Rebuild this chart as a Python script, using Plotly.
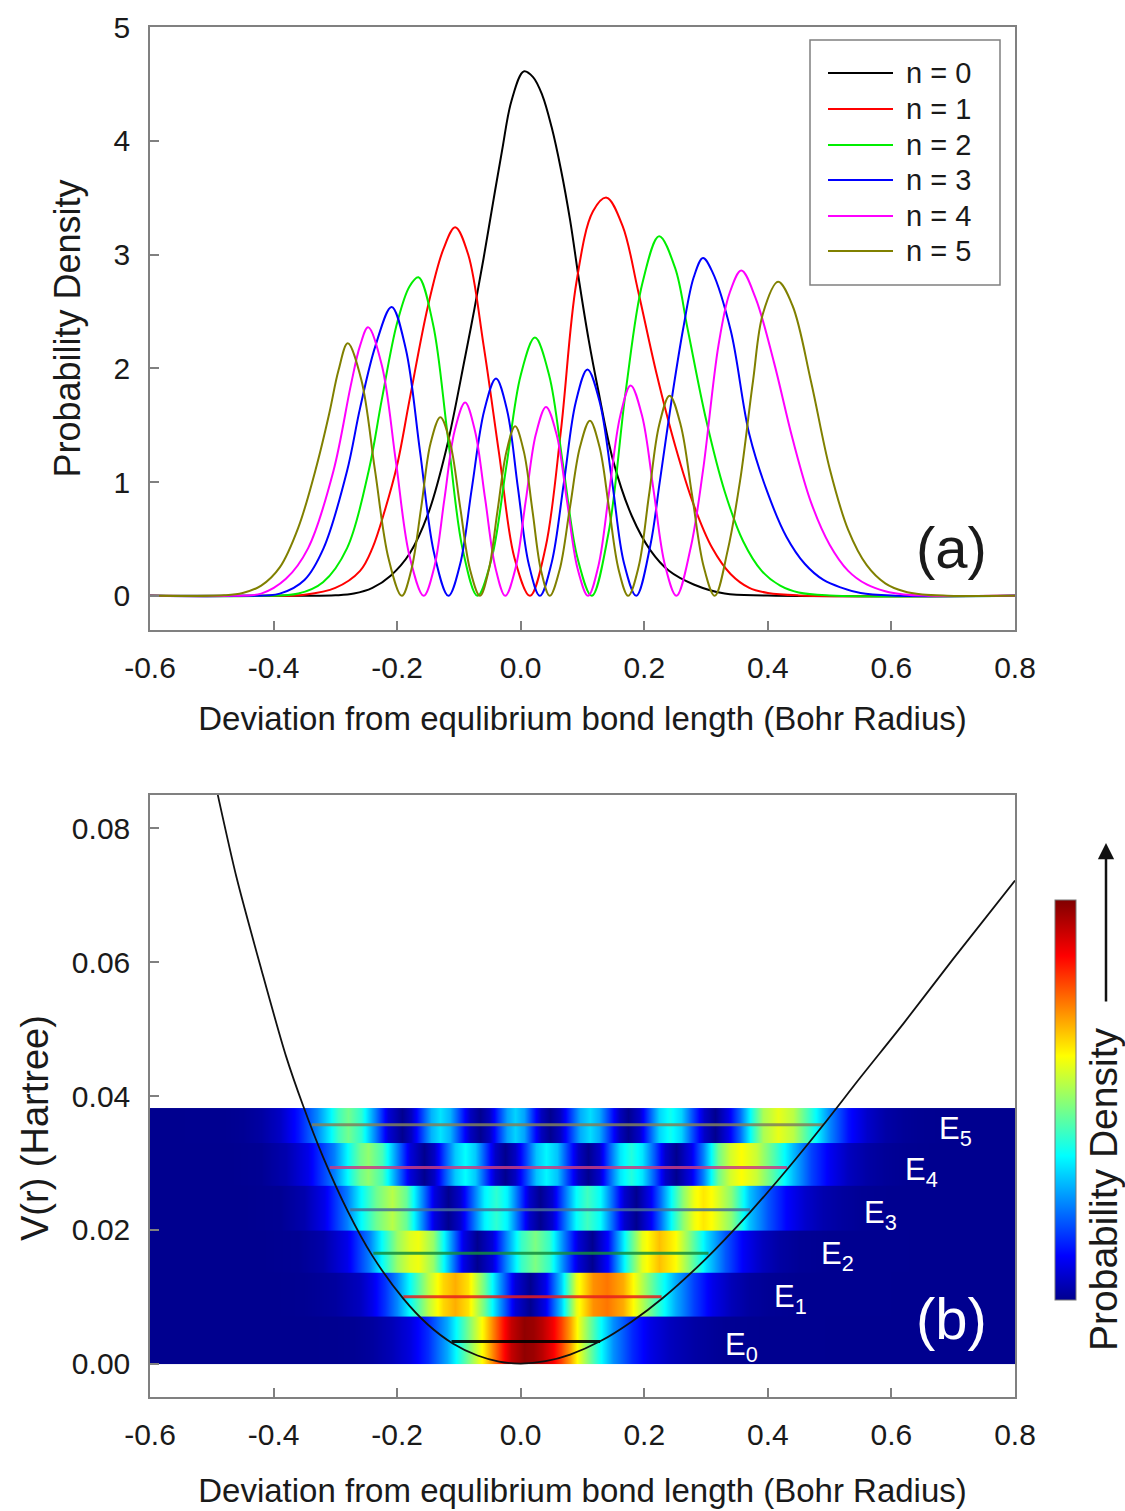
import plotly.graph_objects as go

# ---------------- data ----------------
x_tick_vals = [-0.6, -0.4, -0.2, 0.0, 0.2, 0.4, 0.6, 0.8]
x_tick_text = ['-0.6', '-0.4', '-0.2', '0.0', '0.2', '0.4', '0.6', '0.8']
ya_tick_vals = [0, 1, 2, 3, 4, 5]
yb_tick_vals = [0.00, 0.02, 0.04, 0.06, 0.08]
yb_tick_text = ['0.00', '0.02', '0.04', '0.06', '0.08']

level_names = ['n = 0', 'n = 1', 'n = 2', 'n = 3', 'n = 4', 'n = 5']
energy_labels = ['E<sub>0</sub>', 'E<sub>1</sub>', 'E<sub>2</sub>', 'E<sub>3</sub>', 'E<sub>4</sub>', 'E<sub>5</sub>']

# probability densities
x0 = [-0.60, -0.35, -0.30, -0.27, -0.24, -0.21, -0.18, -0.15, -0.12, -0.09, -0.075, -0.06, -0.045, -0.03, -0.015, 0.005, 0.02, 0.035, 0.05, 0.065, 0.08, 0.095, 0.11, 0.125, 0.15, 0.18, 0.21, 0.24, 0.28, 0.33, 0.40, 0.80]
d0 = [0.0, 0.0, 0.005, 0.02, 0.07, 0.18, 0.37, 0.72, 1.30, 2.10, 2.52, 2.97, 3.45, 3.92, 4.35, 4.61, 4.56, 4.40, 4.12, 3.75, 3.30, 2.75, 2.25, 1.82, 1.18, 0.70, 0.40, 0.22, 0.10, 0.02, 0.003, 0.0]

x1 = [-0.60, -0.40, -0.35, -0.30, -0.26, -0.24, -0.22, -0.20, -0.18, -0.15, -0.125, -0.106, -0.085, -0.06, -0.035, -0.01, 0.015, 0.04, 0.065, 0.09, 0.117, 0.139, 0.165, 0.19, 0.22, 0.25, 0.28, 0.31, 0.34, 0.37, 0.40, 0.45, 0.80]
d1 = [0.0, 0.0, 0.01, 0.07, 0.22, 0.42, 0.75, 1.15, 1.72, 2.55, 3.05, 3.24, 3.00, 2.20, 1.25, 0.33, 0.0, 0.42, 1.45, 2.75, 3.38, 3.50, 3.25, 2.68, 1.95, 1.32, 0.80, 0.42, 0.19, 0.07, 0.025, 0.004, 0.0]

x2 = [-0.60, -0.42, -0.36, -0.32, -0.281, -0.246, -0.225, -0.20, -0.18, -0.1655, -0.142, -0.118, -0.094, -0.07, -0.047, -0.0235, 0.0, 0.023, 0.046, 0.069, 0.092, 0.115, 0.142, 0.17, 0.197, 0.224, 0.25, 0.27, 0.30, 0.33, 0.36, 0.39, 0.42, 0.45, 0.50, 0.80]
d2 = [0.0, 0.0, 0.02, 0.12, 0.42, 1.10, 1.72, 2.40, 2.72, 2.80, 2.39, 1.40, 0.41, 0.0, 0.33, 1.13, 1.94, 2.27, 1.94, 1.13, 0.33, 0.0, 0.55, 1.80, 2.75, 3.16, 2.88, 2.35, 1.55, 0.92, 0.48, 0.22, 0.09, 0.03, 0.004, 0.0]

x3 = [-0.60, -0.45, -0.39, -0.35, -0.319, -0.281, -0.26, -0.235, -0.209, -0.186, -0.163, -0.140, -0.117, -0.098, -0.079, -0.059, -0.040, -0.022, -0.0045, 0.013, 0.031, 0.050, 0.070, 0.089, 0.108, 0.128, 0.148, 0.167, 0.187, 0.21, 0.225, 0.245, 0.263, 0.28, 0.295, 0.31, 0.34, 0.37, 0.40, 0.43, 0.46, 0.49, 0.52, 0.55, 0.60, 0.80]
d3 = [0.0, 0.0, 0.02, 0.14, 0.42, 1.10, 1.65, 2.20, 2.54, 2.17, 1.27, 0.37, 0.0, 0.28, 0.95, 1.63, 1.91, 1.63, 0.95, 0.28, 0.0, 0.29, 1.00, 1.70, 1.99, 1.70, 1.00, 0.29, 0.0, 0.45, 1.00, 1.75, 2.35, 2.80, 2.97, 2.85, 2.33, 1.42, 0.90, 0.52, 0.28, 0.14, 0.07, 0.025, 0.003, 0.0]

x4 = [-0.60, -0.47, -0.42, -0.38, -0.344, -0.303, -0.275, -0.26, -0.247, -0.2245, -0.202, -0.18, -0.157, -0.14, -0.1235, -0.107, -0.090, -0.074, -0.0575, -0.041, -0.025, -0.0085, 0.008, 0.0245, 0.041, 0.058, 0.075, 0.092, 0.109, 0.126, 0.1435, 0.161, 0.178, 0.1965, 0.215, 0.2335, 0.252, 0.275, 0.295, 0.32, 0.338, 0.357, 0.38, 0.41, 0.44, 0.47, 0.50, 0.53, 0.56, 0.59, 0.62, 0.66, 0.80]
d4 = [0.0, 0.0, 0.02, 0.15, 0.42, 1.10, 1.85, 2.20, 2.36, 2.02, 1.18, 0.35, 0.0, 0.25, 0.85, 1.45, 1.70, 1.45, 0.85, 0.25, 0.0, 0.24, 0.83, 1.42, 1.66, 1.42, 0.83, 0.24, 0.0, 0.27, 0.93, 1.58, 1.85, 1.58, 0.93, 0.27, 0.0, 0.42, 1.10, 2.20, 2.66, 2.86, 2.62, 2.05, 1.38, 0.82, 0.45, 0.22, 0.10, 0.04, 0.012, 0.002, 0.0]

x5 = [-0.60, -0.48, -0.45, -0.42, -0.39, -0.36, -0.33, -0.31, -0.295, -0.280, -0.258, -0.236, -0.214, -0.1925, -0.177, -0.161, -0.146, -0.130, -0.114, -0.098, -0.082, -0.066, -0.052, -0.0375, -0.023, -0.009, 0.005, 0.019, 0.033, 0.047, 0.063, 0.0795, 0.096, 0.112, 0.1275, 0.143, 0.1585, 0.174, 0.191, 0.2075, 0.224, 0.241, 0.259, 0.2775, 0.296, 0.314, 0.335, 0.355, 0.376, 0.392, 0.4165, 0.44, 0.47, 0.50, 0.53, 0.56, 0.59, 0.62, 0.65, 0.69, 0.80]
d5 = [0.0, 0.005, 0.025, 0.09, 0.25, 0.60, 1.15, 1.60, 1.98, 2.22, 1.90, 1.11, 0.33, 0.0, 0.23, 0.78, 1.34, 1.57, 1.34, 0.78, 0.23, 0.0, 0.22, 0.75, 1.27, 1.49, 1.27, 0.75, 0.22, 0.0, 0.23, 0.77, 1.31, 1.54, 1.31, 0.77, 0.23, 0.0, 0.26, 0.88, 1.50, 1.76, 1.50, 0.88, 0.26, 0.0, 0.40, 1.01, 1.89, 2.48, 2.76, 2.55, 1.88, 1.12, 0.58, 0.27, 0.11, 0.04, 0.012, 0.002, 0.0]

# potential curve (panel b)
pot_x = [-0.50, -0.49, -0.46, -0.42, -0.38, -0.352, -0.32, -0.28, -0.24, -0.19, -0.15, -0.11, -0.07, -0.035, 0.0, 0.04, 0.08, 0.13, 0.18, 0.23, 0.30, 0.37, 0.43, 0.49, 0.55, 0.62, 0.70, 0.80]
pot_v = [0.0892, 0.0849, 0.0727, 0.0590, 0.0460, 0.0385, 0.0309, 0.0228, 0.0161, 0.0097, 0.0058, 0.0030, 0.0012, 0.0003, 0.0, 0.00035, 0.00135, 0.0034, 0.0063, 0.0098, 0.0157, 0.0225, 0.0289, 0.0357, 0.0428, 0.0509, 0.0605, 0.0722]

# energy levels and classical turning points
energies = [0.0033, 0.0100, 0.0165, 0.0230, 0.0293, 0.0357]
turn_left = [-0.112, -0.190, -0.2385, -0.276, -0.309, -0.338]
turn_right = [0.1285, 0.228, 0.304, 0.371, 0.431, 0.490]

# density bands in panel b (bottom / top of each band, Hartree)
band_bottom = [0.0, 0.0070, 0.0135, 0.0199, 0.0265, 0.0329]
band_top = [0.0070, 0.0135, 0.0199, 0.0265, 0.0329, 0.0382]

xs = [x0, x1, x2, x3, x4, x5]
ds = [d0, d1, d2, d3, d4, d5]

# ---------------- style ----------------
W, H = 1125, 1511
ML, MR, MT, MB = 150, 110, 27, 114
FONT = 'Liberation Sans, Arial, Helvetica, sans-serif'
TXT = '#1a1a1a'
colors = ['#000000', '#ff0000', '#00ee00', '#0000ff', '#ff00ff', '#808000']
level_line_colors = ['rgba(0,0,0,0.9)', 'rgba(230,30,30,0.85)', 'rgba(20,140,60,0.85)',
                     'rgba(70,110,150,0.85)', 'rgba(200,60,130,0.85)', 'rgba(128,128,90,0.85)']
jet = [[0.0, 'rgb(0,0,143)'], [0.11, 'rgb(0,0,255)'], [0.36, 'rgb(0,255,255)'],
       [0.61, 'rgb(255,255,0)'], [0.86, 'rgb(255,0,0)'], [1.0, 'rgb(128,0,0)']]
BAND_OVERLAP = 0.0004  # drawing overlap so adjacent bands leave no hairline gap


def px_x(px):
    return (px - ML) / (W - ML - MR)


def px_y(py):
    return (H - MB - py) / (H - MT - MB)


fig = go.Figure()

# panel a curves
for n in range(6):
    fig.add_trace(go.Scatter(x=xs[n], y=ds[n], mode='lines', name=level_names[n],
                             line=dict(color=colors[n], width=2, shape='spline', smoothing=1.0),
                             xaxis='x', yaxis='y', showlegend=False, hoverinfo='skip'))

# panel b density bands
for n in range(6):
    top = band_top[n] + (BAND_OVERLAP if n < 5 else 0.0)
    mid = (band_bottom[n] + top) / 2
    fig.add_trace(go.Heatmap(x=xs[n], y=[band_bottom[n], mid, top], z=[ds[n], ds[n]],
                             coloraxis='coloraxis', zsmooth='best', xaxis='x2', yaxis='y2',
                             hoverinfo='skip'))

# energy levels
for n in range(6):
    fig.add_trace(go.Scatter(x=[turn_left[n], turn_right[n]], y=[energies[n], energies[n]],
                             mode='lines', line=dict(color=level_line_colors[n], width=3),
                             xaxis='x2', yaxis='y2', showlegend=False, hoverinfo='skip'))

# potential
fig.add_trace(go.Scatter(x=pot_x, y=pot_v, mode='lines',
                         line=dict(color='#111111', width=1.8, shape='spline', smoothing=0.8),
                         xaxis='x2', yaxis='y2', showlegend=False, hoverinfo='skip'))

axis_common = dict(showline=True, linecolor='#808080', linewidth=1.5, mirror=True,
                   ticks='inside', ticklen=9, tickwidth=1.5, tickcolor='#808080',
                   showgrid=False, zeroline=False, automargin=False,
                   tickfont=dict(family=FONT, size=30, color=TXT))
xtitle_font = dict(family=FONT, size=33, color=TXT)

dom_a = [px_y(630), 1.0]
dom_b = [0.0, px_y(795)]
xtitle = 'Deviation from equlibrium bond length (Bohr Radius)'

fig.update_layout(
    width=W, height=H, margin=dict(l=ML, r=MR, t=MT, b=MB, autoexpand=False),
    plot_bgcolor='white', paper_bgcolor='white', showlegend=False,
    xaxis=dict(axis_common, domain=[0, 1], anchor='y', range=[-0.6, 0.8],
               tickvals=x_tick_vals, ticktext=x_tick_text, ticklabelstandoff=10,
               title=dict(text=xtitle, font=xtitle_font, standoff=24)),
    yaxis=dict(axis_common, domain=dom_a, anchor='x', range=[-0.3, 5],
               tickvals=ya_tick_vals, ticklabelstandoff=12,
               title=dict(text='Probability Density', font=dict(family=FONT, size=36, color=TXT),
                          standoff=22)),
    xaxis2=dict(axis_common, domain=[0, 1], anchor='y2', range=[-0.6, 0.8],
                tickvals=x_tick_vals, ticktext=x_tick_text, ticklabelstandoff=10,
                title=dict(text=xtitle, font=xtitle_font, standoff=29)),
    yaxis2=dict(axis_common, domain=dom_b, anchor='x2', range=[-0.005, 0.085],
                tickvals=yb_tick_vals, ticktext=yb_tick_text, ticklabelstandoff=12),
    coloraxis=dict(colorscale=jet, cmin=0, cmax=4.7,
                   colorbar=dict(x=px_x(1055), xanchor='left', y=px_y(1100), yanchor='middle',
                                 len=400, lenmode='pixels', thickness=21, thicknessmode='pixels',
                                 xpad=0, ypad=0, showticklabels=False, ticks='',
                                 outlinewidth=1, outlinecolor='#777777')),
)

shapes = []
annotations = []

# custom legend box for panel a
shapes.append(dict(type='rect', xref='paper', yref='paper',
                   x0=px_x(810), x1=px_x(1000), y0=px_y(285), y1=px_y(40),
                   line=dict(color='#808080', width=1.5), fillcolor='white', layer='above'))
legend_rows = [73, 109, 145, 180, 216, 251]
for n in range(6):
    shapes.append(dict(type='line', xref='paper', yref='paper',
                       x0=px_x(828), x1=px_x(893), y0=px_y(legend_rows[n]), y1=px_y(legend_rows[n]),
                       line=dict(color=colors[n], width=2), layer='above'))
    annotations.append(dict(xref='paper', yref='paper', x=px_x(904), y=px_y(legend_rows[n]),
                            text=level_names[n], showarrow=False, xanchor='left', yanchor='middle',
                            font=dict(family=FONT, size=29, color=TXT)))

# y-axis title of panel b (placed like the reference, below the axis centre)
annotations.append(dict(xref='paper', yref='paper', x=px_x(35), y=px_y(1128),
                        text='V(r) (Hartree)', textangle=-90, showarrow=False,
                        xanchor='center', yanchor='middle',
                        font=dict(family=FONT, size=38, color=TXT)))

# panel labels
annotations.append(dict(xref='paper', yref='paper', x=px_x(951), y=px_y(548), text='(a)',
                        showarrow=False, xanchor='center', yanchor='middle',
                        font=dict(family=FONT, size=58, color=TXT)))
annotations.append(dict(xref='paper', yref='paper', x=px_x(951), y=px_y(1318), text='(b)',
                        showarrow=False, xanchor='center', yanchor='middle',
                        font=dict(family=FONT, size=58, color='white')))

# energy labels
label_x = [0.328, 0.407, 0.4825, 0.553, 0.618, 0.674]
label_y = [0.0030, 0.0102, 0.0167, 0.0228, 0.0293, 0.0353]
for n in range(6):
    annotations.append(dict(xref='x2', yref='y2', x=label_x[n], y=label_y[n], text=energy_labels[n],
                            showarrow=False, xanchor='left', yanchor='middle', yshift=-4,
                            font=dict(family=FONT, size=31, color='white')))

# colorbar title and arrow
annotations.append(dict(xref='paper', yref='paper', x=px_x(1103), y=px_y(1190),
                        text='Probability Density', textangle=-90, showarrow=False,
                        xanchor='center', yanchor='middle',
                        font=dict(family=FONT, size=39, color=TXT)))
annotations.append(dict(xref='paper', yref='paper', x=px_x(1106), y=px_y(843), text='',
                        showarrow=True, ax=0, ay=160, arrowhead=2, arrowsize=1.3,
                        arrowwidth=2.5, arrowcolor='#111111'))

fig.update_layout(shapes=shapes, annotations=annotations)

fig.write_html('out.html')
